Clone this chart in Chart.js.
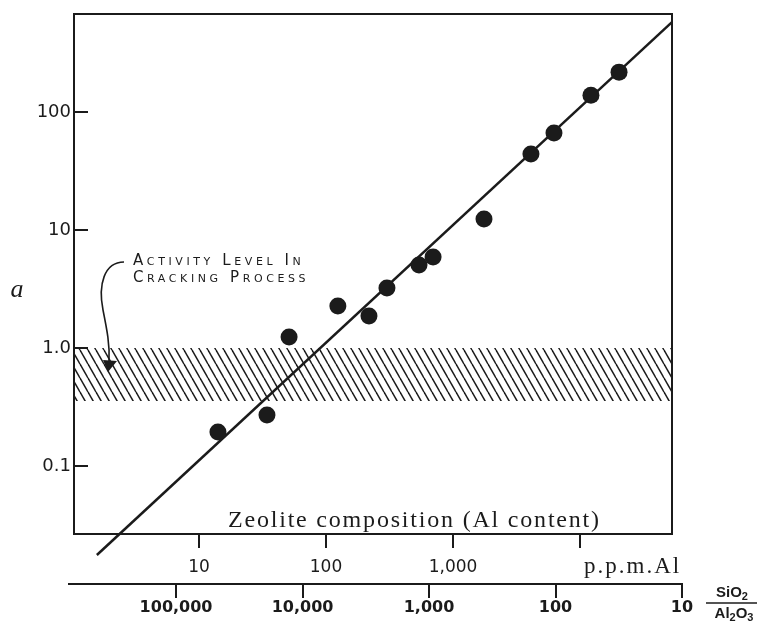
<!DOCTYPE html>
<html>
<head>
<meta charset="utf-8">
<script src="https://cdn.jsdelivr.net/npm/chart.js@4.4.1/dist/chart.umd.min.js"></script>
<style>
  html, body { margin: 0; padding: 0; background: #fff; }
</style>
</head>
<body>
<canvas id="chart" width="760" height="622"></canvas>
<script>
/* ---------------- DATA ---------------- */
const alPpm    = [14.1, 34.3, 51.2, 124, 218, 302, 540, 697, 1754, 4110, 6240, 12200, 20300];
const activity = [0.194, 0.270, 1.24, 2.27, 1.87, 3.22, 5.05, 5.90, 12.4, 44.1, 66.4, 139, 218];

// straight line through the points (end points)
const fitPpm      = [1.57, 53000];
const fitActivity = [0.0176, 579];

// activity level in cracking process (hatched band)
const bandTop    = 1.0;
const bandBottom = 0.355;

const yTicks      = [0.1, 1, 10, 100];
const yTickLabels = ["0.1", "1.0", "10", "100"];

const ppmTicks      = [10, 100, 1000, 10000];
const ppmTickLabels = ["10", "100", "1,000", ""];

const ratioTicks      = [100000, 10000, 1000, 100, 10];
const ratioTickLabels = ["100,000", "10,000", "1,000", "100", "10"];

const yMin = 0.0265, yMax = 678;
const ppmMin = 1.037, ppmMax = 53030;
const ratioMin = 10, ratioMax = 702000;

const ink = "#1b1b1b";

/* ---------------- HELPERS ---------------- */
function fixTicks(values) {
    return scale => { scale.ticks = values.map(v => ({ value: v })); };
}

function labelFrom(values, labels) {
    return v => {
        const i = values.indexOf(v);
        return i < 0 ? "" : labels[i];
    };
}

// fixed box size, no extra padding from end labels
function boxSize(w, h) {
    return s => {
        if (w !== null) s.width = w;
        if (h !== null) s.height = h;
        s.paddingTop = 0;
        s.paddingBottom = 0;
        s.paddingLeft = 0;
        s.paddingRight = 0;
    };
}

function makeHatch() {
    const c = document.createElement("canvas");
    c.width = 8;
    c.height = 14;
    const g = c.getContext("2d");
    g.strokeStyle = ink;
    g.lineWidth = 1.5;
    for (const off of [-8, 0, 8]) {
        g.beginPath();
        g.moveTo(off, 0);
        g.lineTo(off + 8, 14);
        g.stroke();
    }
    return g.createPattern(c, "repeat");
}

// text with subscripts: parts = [[text, isSub], ...]
function drawChem(ctx, parts, cx, baseline, size) {
    const big = "bold " + size + "px 'Liberation Sans'";
    const small = "bold " + Math.round(size * 0.7) + "px 'Liberation Sans'";
    let w = 0;
    for (const [t, sub] of parts) {
        ctx.font = sub ? small : big;
        w += ctx.measureText(t).width;
    }
    let x = cx - w / 2;
    ctx.textAlign = "left";
    ctx.textBaseline = "alphabetic";
    for (const [t, sub] of parts) {
        ctx.font = sub ? small : big;
        ctx.fillText(t, x, baseline + (sub ? 3 : 0));
        x += ctx.measureText(t).width;
    }
}

/* ---------------- PLUGINS ---------------- */

// the SiO2/Al2O3 axis runs a little past the frame on both sides
const widenRatioAxis = {
    id: "widenRatioAxis",
    afterLayout(chart) {
        const s = chart.scales.x2;
        const a = chart.chartArea;
        s.left = a.left - 5;
        s.right = a.right + 10;
        s.width = s.right - s.left;
        s.configure();
    }
};

const annotate = {
    id: "annotate",
    afterDraw(chart) {
        const { ctx, chartArea: a } = chart;
        ctx.save();
        ctx.fillStyle = ink;
        ctx.strokeStyle = ink;

        // y axis symbol
        ctx.font = "italic 26px 'Liberation Serif'";
        ctx.textAlign = "center";
        ctx.textBaseline = "alphabetic";
        ctx.fillText("a", 17, 297);

        // composition caption inside the frame
        ctx.font = "24px 'Liberation Serif'";
        ctx.textAlign = "left";
        ctx.letterSpacing = "1.8px";
        ctx.fillText("Zeolite composition (Al content)", a.left + 154, a.bottom - 7);

        // lettered note
        ctx.font = "small-caps 15px 'DejaVu Sans'";
        ctx.letterSpacing = "3.6px";
        ctx.fillText("Activity Level In", a.left + 59, 265);
        ctx.fillText("Cracking Process", a.left + 59, 282);
        ctx.letterSpacing = "0px";

        // curved arrow
        ctx.lineWidth = 1.6;
        ctx.beginPath();
        ctx.moveTo(a.left + 50, 262);
        ctx.bezierCurveTo(a.left + 30, 262, a.left + 24, 285, a.left + 29, 310);
        ctx.bezierCurveTo(a.left + 33, 330, a.left + 36, 345, a.left + 35, 362);
        ctx.stroke();
        ctx.beginPath();
        ctx.moveTo(a.left + 34, 372);
        ctx.lineTo(a.left + 29, 360);
        ctx.lineTo(a.left + 43, 361);
        ctx.closePath();
        ctx.fill();

        // unit of the upper x axis
        ctx.font = "23px 'Liberation Serif'";
        ctx.letterSpacing = "2px";
        ctx.fillText("p.p.m.Al", a.right - 88, 573);
        ctx.letterSpacing = "0px";

        // SiO2 / Al2O3 fraction
        drawChem(ctx, [["SiO", false], ["2", true]], 732, 597, 15);
        ctx.lineWidth = 1.6;
        ctx.beginPath();
        ctx.moveTo(706, 603);
        ctx.lineTo(757, 603);
        ctx.stroke();
        drawChem(ctx, [["Al", false], ["2", true], ["O", false], ["3", true]], 734, 618, 15);

        ctx.restore();
    }
};

/* ---------------- CHART ---------------- */
const ctx = document.getElementById("chart");

new Chart(ctx, {
    type: "scatter",
    data: {
        datasets: [
            {
                label: "Zeolites",
                data: alPpm.map((x, i) => ({ x: x, y: activity[i] })),
                pointRadius: 8.5,
                pointBorderWidth: 0,
                backgroundColor: ink,
                borderColor: ink
            },
            {
                label: "Fit",
                data: fitPpm.map((x, i) => ({ x: x, y: fitActivity[i] })),
                showLine: true,
                borderColor: ink,
                borderWidth: 2.5,
                pointRadius: 0,
                clip: false
            },
            {
                label: "Cracking activity band",
                data: [{ x: ppmMin, y: bandTop }, { x: ppmMax, y: bandTop }],
                showLine: true,
                borderWidth: 0,
                pointRadius: 0,
                fill: { value: bandBottom },
                backgroundColor: makeHatch()
            }
        ]
    },
    options: {
        responsive: false,
        animation: false,
        layout: { padding: { left: 0, right: 0, top: 14, bottom: 0 } },
        plugins: {
            legend: { display: false },
            tooltip: { enabled: false }
        },
        scales: {
            x: {
                type: "logarithmic",
                position: "bottom",
                weight: 0,
                min: ppmMin,
                max: ppmMax,
                afterBuildTicks: fixTicks(ppmTicks),
                afterFit: boxSize(null, 50),
                border: { display: true, color: ink, width: 2 },
                grid: { drawOnChartArea: false, tickLength: 14, color: ink, lineWidth: 2 },
                ticks: {
                    callback: labelFrom(ppmTicks, ppmTickLabels),
                    autoSkip: false,
                    maxRotation: 0,
                    padding: 9,
                    color: ink,
                    font: { family: "DejaVu Sans", size: 17 }
                }
            },
            x2: {
                type: "logarithmic",
                position: "bottom",
                weight: 1,
                reverse: true,
                min: ratioMin,
                max: ratioMax,
                afterBuildTicks: fixTicks(ratioTicks),
                afterFit: boxSize(null, 38),
                border: { display: true, color: ink, width: 2 },
                grid: { drawOnChartArea: false, tickLength: 14, color: ink, lineWidth: 2 },
                ticks: {
                    callback: labelFrom(ratioTicks, ratioTickLabels),
                    autoSkip: false,
                    maxRotation: 0,
                    padding: 0,
                    color: ink,
                    font: { family: "DejaVu Sans", size: 16, weight: "bold" }
                }
            },
            xTop: {
                type: "logarithmic",
                position: "top",
                min: ppmMin,
                max: ppmMax,
                afterFit: boxSize(null, 0),
                border: { display: true, color: ink, width: 2 },
                grid: { display: false },
                ticks: { display: false }
            },
            y: {
                type: "logarithmic",
                position: "left",
                min: yMin,
                max: yMax,
                afterBuildTicks: fixTicks(yTicks),
                afterFit: boxSize(74, null),
                border: { display: true, color: ink, width: 2 },
                grid: { drawOnChartArea: false, tickLength: -14, color: ink, lineWidth: 2 },
                ticks: {
                    callback: labelFrom(yTicks, yTickLabels),
                    autoSkip: false,
                    padding: 17,
                    color: ink,
                    font: { family: "DejaVu Sans", size: 18 }
                }
            },
            yR: {
                type: "logarithmic",
                position: "right",
                min: yMin,
                max: yMax,
                afterFit: boxSize(88, null),
                border: { display: true, color: ink, width: 2 },
                grid: { display: false },
                ticks: { display: false }
            }
        }
    },
    plugins: [widenRatioAxis, annotate]
});
</script>
</body>
</html>
